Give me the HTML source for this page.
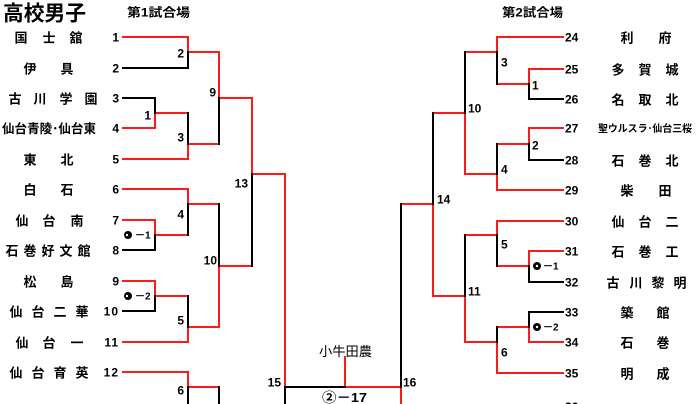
<!DOCTYPE html>
<html><head><meta charset="utf-8"><style>
html,body{margin:0;padding:0;background:#fff;}
svg{display:block;}
.n{font-family:"Liberation Sans",sans-serif;font-size:12px;font-weight:bold;fill:#000;}
.j{font-family:"Liberation Sans","Noto Sans CJK JP",sans-serif;font-size:13px;font-weight:bold;fill:#000;}
</style></head><body>
<svg width="698" height="404" viewBox="0 0 698 404" xmlns="http://www.w3.org/2000/svg">
<g fill="none" stroke-width="2" stroke-linecap="square" stroke-linejoin="miter">
<path stroke="#ff1a1a" d="M123 37H188V52 M188 52H219V98 M219 98H252V174 M252 174H285V387 M123 128H155V113H188 M188 144H219 M188 144V159H123 M123 189H188V204H219 M123 220H155V235H188 M123 281H155V296H188 M123 342H188V327H219 M219 327V266H252 M123 372H188V387H219 M345 357V387H401V404 M401 204H433V296H465V342H497V373H563 M433 113H465V174H497V190H563 M465 52H497V37H563 M497 84H529V69H563 M563 128H529V144H497 M465 235H497V221H563 M497 266H529V251H563 M497 327H529V342H563"/>
<path stroke="#000" d="M123 68H188V52 M123 98H155V113 M188 113V144 M155 235V250H123 M188 204V235 M155 296V311H123 M188 296V327 M219 98V144 M219 204V266 M252 174V266 M285 387V404 M285 387H345 M188 387V404 M219 387V404 M401 204V387 M433 113V204 M465 52V113 M497 52V84 M529 84V99H563 M529 144V160H563 M497 144V174 M465 235V296 M497 235V266 M529 266V282H563 M529 312H563 M529 312V327 M497 327V342"/>
</g>

<!-- titles -->
<text class="j" x="3" y="20.5" style="font-size:21px" textLength="83" lengthAdjust="spacingAndGlyphs">高校男子</text>
<text class="j" x="127" y="16.5" style="font-size:12px" textLength="63" lengthAdjust="spacingAndGlyphs">第1試合場</text>
<text class="j" x="502" y="16.5" style="font-size:12px" textLength="61" lengthAdjust="spacingAndGlyphs">第2試合場</text>

<!-- left seed numbers -->
<g class="n" text-anchor="end">
<text x="119" y="41.5">1</text>
<text x="119" y="72.5">2</text>
<text x="119" y="102.5">3</text>
<text x="119" y="132.5">4</text>
<text x="119" y="163.5">5</text>
<text x="119" y="193.5">6</text>
<text x="119" y="224.5">7</text>
<text x="119" y="254.5">8</text>
<text x="119" y="285.5">9</text>
<text x="119" y="315.5" letter-spacing="1">10</text>
<text x="119" y="346.5" letter-spacing="1">11</text>
<text x="119" y="376.5" letter-spacing="1">12</text>
<!-- match numbers left -->
<text x="184" y="57.5">2</text>
<text x="151" y="119.5">1</text>
<text x="184" y="141.5">3</text>
<text x="216" y="96.5">9</text>
<text x="248" y="187.5">13</text>
<text x="184" y="218.5">4</text>
<text x="217" y="264.5">10</text>
<text x="184" y="324.5">5</text>
<text x="184" y="394.5">6</text>
<text x="281" y="386.5">15</text>
</g>

<!-- right seed numbers -->
<g class="n">
<text x="565" y="41.5">24</text>
<text x="565" y="73.5">25</text>
<text x="565" y="103.5">26</text>
<text x="565" y="132.5">27</text>
<text x="565" y="164.5">28</text>
<text x="565" y="194.5">29</text>
<text x="565" y="225.5">30</text>
<text x="565" y="255.5">31</text>
<text x="565" y="286.5">32</text>
<text x="565" y="316.5">33</text>
<text x="565" y="346.5">34</text>
<text x="565" y="377.5">35</text>
<text x="565" y="411">36</text>
<!-- match numbers right -->
<text x="501" y="66.5">3</text>
<text x="532" y="89.5">1</text>
<text x="468" y="112.5">10</text>
<text x="532" y="149.5">2</text>
<text x="501" y="173.5">4</text>
<text x="437" y="203.5">14</text>
<text x="501" y="248.5">5</text>
<text x="468" y="295.5">11</text>
<text x="501" y="356.5">6</text>
<text x="403" y="386.5">16</text>
</g>

<!-- circled sub-match labels -->
<g>
<circle cx="128" cy="235" r="4" fill="#000"/><circle cx="127" cy="235" r="1.2" fill="#fff"/>
<text class="n" x="135" y="238.5" style="font-size:10px">－1</text>
<circle cx="128" cy="296" r="4" fill="#000"/><circle cx="127" cy="296" r="1.2" fill="#fff"/>
<text class="n" x="135" y="299.5" style="font-size:10px">－2</text>
<circle cx="537" cy="266" r="4" fill="#000"/><circle cx="537" cy="266" r="1.2" fill="#fff"/>
<text class="n" x="543" y="269.5" style="font-size:10px">－1</text>
<circle cx="537" cy="327" r="4" fill="#000"/><circle cx="537" cy="327" r="1.2" fill="#fff"/>
<text class="n" x="543" y="330.5" style="font-size:10px">－2</text>
</g>

<!-- center labels -->
<text class="j" x="319" y="356" style="font-weight:normal" textLength="53" lengthAdjust="spacingAndGlyphs">小牛田農</text>
<text class="j" x="322" y="402" textLength="45" lengthAdjust="spacingAndGlyphs">②－17</text>

<!-- left team names -->
<g class="j" text-anchor="middle">
<text y="42.5"><tspan x="21">国</tspan><tspan x="49">士</tspan><tspan x="76">舘</tspan></text>
<text y="73.5"><tspan x="30">伊</tspan><tspan x="67">具</tspan></text>
<text y="103.5"><tspan x="15">古</tspan><tspan x="40">川</tspan><tspan x="66">学</tspan><tspan x="91">園</tspan></text>
<text y="164.5"><tspan x="30">東</tspan><tspan x="67">北</tspan></text>
<text y="194.5"><tspan x="30">白</tspan><tspan x="67">石</tspan></text>
<text y="225.5"><tspan x="22">仙</tspan><tspan x="49">台</tspan><tspan x="77">南</tspan></text>
<text y="255.5"><tspan x="12">石</tspan><tspan x="30">巻</tspan><tspan x="48">好</tspan><tspan x="66">文</tspan><tspan x="84">館</tspan></text>
<text y="286.5"><tspan x="30">松</tspan><tspan x="67">島</tspan></text>
<text y="316.5"><tspan x="16">仙</tspan><tspan x="38">台</tspan><tspan x="60">二</tspan><tspan x="82">華</tspan></text>
<text y="347.5"><tspan x="22">仙</tspan><tspan x="49">台</tspan><tspan x="77">一</tspan></text>
<text y="377.5"><tspan x="16">仙</tspan><tspan x="38">台</tspan><tspan x="60">育</tspan><tspan x="82">英</tspan></text>
</g>
<text class="j" x="2" y="133" style="font-size:12.5px" textLength="94" lengthAdjust="spacingAndGlyphs">仙台青陵･仙台東</text>

<!-- right team names -->
<g class="j" text-anchor="middle">
<text y="42.5"><tspan x="627">利</tspan><tspan x="665">府</tspan></text>
<text y="74.5"><tspan x="618">多</tspan><tspan x="645">賀</tspan><tspan x="672">城</tspan></text>
<text y="104.5"><tspan x="618">名</tspan><tspan x="645">取</tspan><tspan x="672">北</tspan></text>
<text y="165.5"><tspan x="618">石</tspan><tspan x="645">巻</tspan><tspan x="672">北</tspan></text>
<text y="195.5"><tspan x="627">柴</tspan><tspan x="665">田</tspan></text>
<text y="226.5"><tspan x="618">仙</tspan><tspan x="645">台</tspan><tspan x="672">二</tspan></text>
<text y="256.5"><tspan x="618">石</tspan><tspan x="645">巻</tspan><tspan x="672">工</tspan></text>
<text y="287.5"><tspan x="613">古</tspan><tspan x="636">川</tspan><tspan x="658">黎</tspan><tspan x="680">明</tspan></text>
<text y="317.5"><tspan x="627">築</tspan><tspan x="663">館</tspan></text>
<text y="347.5"><tspan x="627">石</tspan><tspan x="663">巻</tspan></text>
<text y="378.5"><tspan x="627">明</tspan><tspan x="663">成</tspan></text>
</g>
<text class="j" x="598" y="132" style="font-size:10px" textLength="94" lengthAdjust="spacingAndGlyphs">聖ウルスラ･仙台三桜</text>
</svg>
</body></html>
